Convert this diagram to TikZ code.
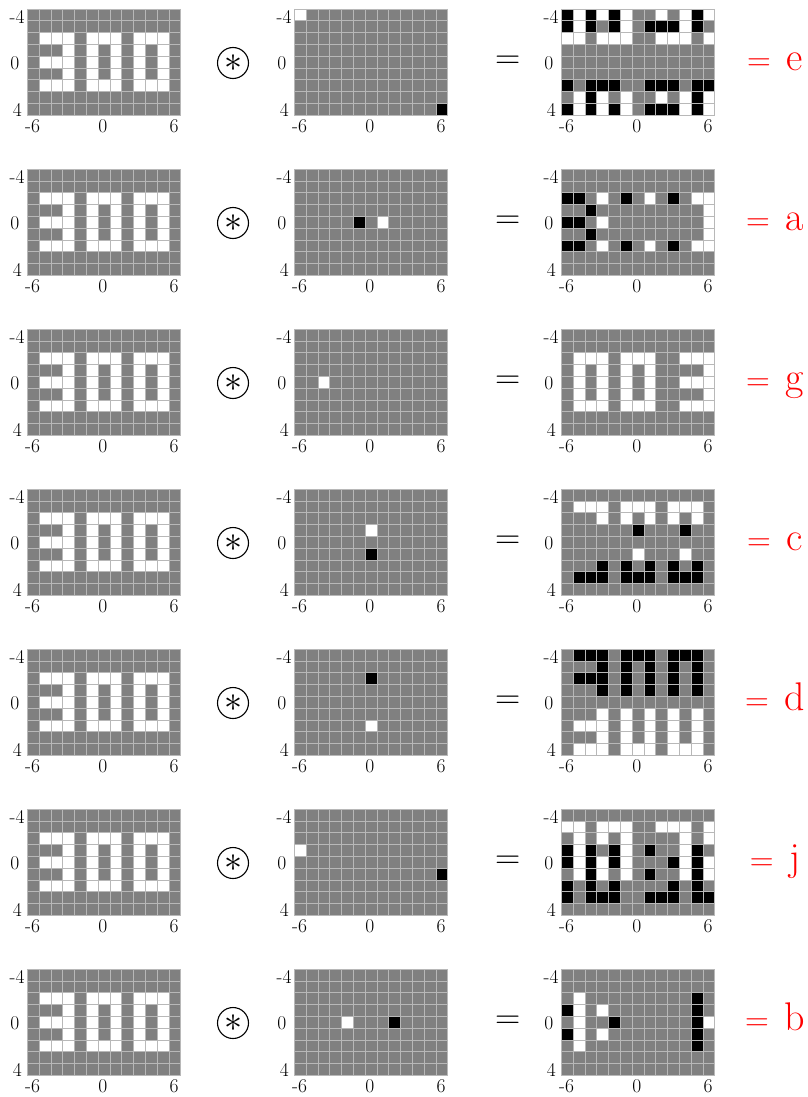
\RequirePackage{fix-cm}
\documentclass[tikz,border=0pt]{standalone}
\definecolor{midgray}{gray}{0.5}
\definecolor{gline}{gray}{0.72}
\tikzset{
  gridline/.style={draw=gline, line width=0.6pt},
  ticklab/.style={inner sep=0pt, font=\fontsize{19.5}{21}\selectfont},
  opcirc/.style={circle, draw=black, line width=1.1pt, minimum size=31pt, inner sep=0pt, font=\fontsize{36}{40}\selectfont},
  eqsym/.style={anchor=base, inner sep=0pt, font=\fontsize{35}{40}\selectfont},
  reslab/.style={anchor=base, inner sep=0pt, text=red},
}
% the "300" image, 9 rows x 13 columns, row-major
\def\imgarr{{0,0,0,0,0,0,0,0,0,0,0,0,0,%
0,0,0,0,0,0,0,0,0,0,0,0,0,%
0,1,1,1,0,1,1,1,0,1,1,1,0,%
0,0,0,1,0,1,0,1,0,1,0,1,0,%
0,1,1,1,0,1,0,1,0,1,0,1,0,%
0,0,0,1,0,1,0,1,0,1,0,1,0,%
0,1,1,1,0,1,1,1,0,1,1,1,0,%
0,0,0,0,0,0,0,0,0,0,0,0,0,%
0,0,0,0,0,0,0,0,0,0,0,0,0}}
\newcommand\gridlinesall{%
  \foreach \kk in {0,...,13}{\draw[gridline] (\kk,0) -- (\kk,9);}
  \foreach \kk in {0,...,9}{\draw[gridline] (0,\kk) -- (13,\kk);}}
\newcommand\ticklabels[1]{%
  \node[ticklab] (#1-ya) at (-0.87,0.67) {-4};
  \node[ticklab] (#1-yb) at (-1.05,4.58) {0};
  \node[ticklab] (#1-yc) at (-0.85,8.56) {4};
  \node[ticklab] (#1-xa) at (0.45,9.96) {-6};
  \node[ticklab] (#1-xb) at (6.4,9.96) {0};
  \node[ticklab] (#1-xc) at (12.45,9.96) {6};}
% #1 x0, #2 y0, #3 wx, #4 wy, #5 bx, #6 by, #7 black used, #8 name
\newcommand\convgrid[8]{%
  \begin{scope}[shift={(#1,#2)}, x=11.8pt, y=-11.8pt]
    \fill[midgray] (0,0) rectangle (13,9);
    \foreach \ri in {0,...,8}{%
      \foreach \ci in {0,...,12}{%
        \pgfmathtruncatemacro\ia{mod(\ci-(#3)+26,13)+13*mod(\ri-(#4)+18,9)}%
        \pgfmathtruncatemacro\ib{mod(\ci-(#5)+26,13)+13*mod(\ri-(#6)+18,9)}%
        \pgfmathtruncatemacro\va{\imgarr[\ia]}%
        \pgfmathtruncatemacro\vb{\imgarr[\ib]}%
        \pgfmathtruncatemacro\vv{\va-(#7)*\vb}%
        \ifnum\vv>0 \fill[white] (\ci,\ri) rectangle ++(1,1);\fi
        \ifnum\vv<0 \fill[black] (\ci,\ri) rectangle ++(1,1);\fi
      }%
    }
    \gridlinesall
    \ticklabels{#8}
  \end{scope}}
\newcommand\kerngrid[8]{%
  \begin{scope}[shift={(#1,#2)}, x=11.8pt, y=-11.8pt]
    \fill[midgray] (0,0) rectangle (13,9);
    \fill[white] ({#3+6},{#4+4}) rectangle ++(1,1);
    \ifnum#7=1 \fill[black] ({#5+6},{#6+4}) rectangle ++(1,1);\fi
    \gridlinesall
    \ticklabels{#8}
  \end{scope}}
\begin{document}
\begin{tikzpicture}[x=1pt, y=-1pt]
\useasboundingbox (0,0) rectangle (807,1097);
\foreach \i/\wx/\wy/\bx/\by/\bs/\lab in {0/-6/-4/6/4/1/e, 1/1/0/-1/0/1/a, 2/-4/0/0/0/0/g, 3/0/-1/0/1/1/c, 4/0/2/0/-2/1/d, 5/-6/-1/6/1/1/j, 6/-2/0/2/0/1/b}{
  \pgfmathsetmacro\ytop{9+160*\i}
  \convgrid{27.3}{\ytop}{0}{0}{0}{0}{0}{A\i}
  \kerngrid{294.3}{\ytop}{\wx}{\wy}{\bx}{\by}{\bs}{K\i}
  \convgrid{561.3}{\ytop}{\wx}{\wy}{\bx}{\by}{\bs}{R\i}
  \node[opcirc] (op\i) at (233,\ytop+54) {$\ast$};
  \node[eqsym] (eq\i) at (508,\ytop+59.7) {=};
  \node[reslab] (res\i) at (775,\ytop+61.5) {{\fontsize{33}{36}\selectfont =}\hspace{15.7pt}{\fontsize{40}{44}\selectfont \lab}};
}
\end{tikzpicture}
\end{document}
